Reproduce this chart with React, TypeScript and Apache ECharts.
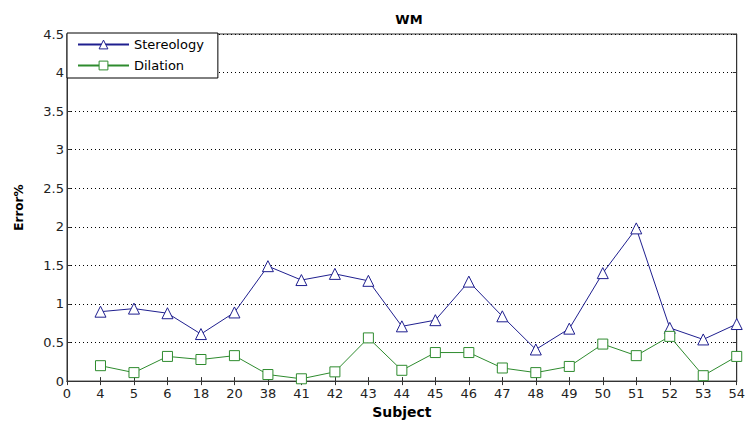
import React, { useEffect, useRef } from "react";
import * as echarts from "echarts";

const subjects = ["4", "5", "6", "18", "20", "38", "41", "42", "43", "44", "45", "46", "47", "48", "49", "50", "51", "52", "53", "54"];
const stereology = [0.9, 0.94, 0.88, 0.61, 0.89, 1.49, 1.31, 1.39, 1.3, 0.71, 0.79, 1.29, 0.84, 0.41, 0.68, 1.4, 1.98, 0.69, 0.54, 0.74];
const dilation = [0.2, 0.11, 0.32, 0.28, 0.33, 0.085, 0.03, 0.12, 0.56, 0.14, 0.37, 0.37, 0.17, 0.11, 0.19, 0.48, 0.33, 0.58, 0.07, 0.32];
const xCategories = ["0", ...subjects];

const BLUE = "#1f1f8f";
const GREEN = "#2e8b2e";
const FONT = "DejaVu Sans, sans-serif";

export default function App() {
  const ref = useRef<HTMLDivElement>(null);
  useEffect(() => {
    if (!ref.current) return;
    const chart = echarts.init(ref.current, null, { renderer: "svg" });
    const tickStyle = { color: "#222", fontFamily: FONT, fontSize: 13 };
    chart.setOption({
      animation: false,
      backgroundColor: "#fff",
      title: {
        text: "WM",
        left: 404,
        top: 8,
        textAlign: "center",
        textStyle: { fontFamily: FONT, fontSize: 13, fontWeight: "bold", color: "#000" },
      },
      legend: {
        left: 67,
        top: 33,
        orient: "vertical",
        backgroundColor: "#fff",
        borderColor: "#000",
        borderWidth: 1,
        borderRadius: 0,
        padding: [5, 14, 6, 10],
        itemWidth: 51,
        itemHeight: 11,
        itemGap: 8,
        itemStyle: { borderWidth: 1 },
        textStyle: { fontFamily: FONT, fontSize: 13, color: "#000" },
        data: ["Stereology", "Dilation"],
      },
      grid: {
        left: 67,
        right: 4,
        top: 34,
        bottom: 39,
        show: true,
        borderColor: "#333",
        borderWidth: 1,
        backgroundColor: "#fff",
      },
      xAxis: [
        {
          type: "category",
          data: xCategories,
          boundaryGap: false,
          name: "Subject",
          nameLocation: "middle",
          nameGap: 23,
          nameTextStyle: { fontFamily: FONT, fontSize: 14, fontWeight: "bold", color: "#000" },
          axisLine: { lineStyle: { color: "#333" } },
          axisTick: { inside: true, length: 4, alignWithLabel: true, lineStyle: { color: "#333" } },
          axisLabel: { ...tickStyle, interval: 0, margin: 6, showMaxLabel: true },
          splitLine: { show: false },
        },
        {
          type: "category",
          data: xCategories,
          boundaryGap: false,
          position: "top",
          axisLine: { lineStyle: { color: "#333" } },
          axisTick: { inside: true, length: 4, interval: 0, lineStyle: { color: "#333" } },
          axisLabel: { show: false },
          splitLine: { show: false },
        },
      ],
      yAxis: [
        {
          type: "value",
          min: 0,
          max: 4.5,
          interval: 0.5,
          name: "Error%",
          nameLocation: "middle",
          nameGap: 42,
          nameRotate: 90,
          nameTextStyle: { fontFamily: FONT, fontSize: 12, fontWeight: "bold", color: "#000" },
          axisLine: { show: true, lineStyle: { color: "#333" } },
          axisTick: { show: true, inside: true, length: 4, lineStyle: { color: "#333" } },
          axisLabel: { ...tickStyle, margin: 3 },
          splitLine: { show: true, lineStyle: { color: "#000", type: [1, 3], width: 1 } },
        },
        {
          type: "value",
          min: 0,
          max: 4.5,
          interval: 0.5,
          position: "right",
          axisLine: { show: true, lineStyle: { color: "#333" } },
          axisTick: { show: true, inside: true, length: 4, lineStyle: { color: "#333" } },
          axisLabel: { show: false },
          splitLine: { show: false },
        },
      ],
      series: [
        {
          name: "Stereology",
          type: "line",
          data: ["-", ...stereology],
          symbol: "triangle",
          symbolSize: 11,
          itemStyle: { color: "#fff", borderColor: BLUE, borderWidth: 1 },
          lineStyle: { color: BLUE, width: 1 },
          z: 3,
        },
        {
          name: "Dilation",
          type: "line",
          data: ["-", ...dilation],
          symbol: "rect",
          symbolSize: 10,
          itemStyle: { color: "#fff", borderColor: GREEN, borderWidth: 1 },
          lineStyle: { color: GREEN, width: 1 },
          z: 3,
        },
      ],
    });
    return () => chart.dispose();
  }, []);
  return <div ref={ref} style={{ width: 748, height: 424, position: "absolute", left: 0, top: 0 }} />;
}
